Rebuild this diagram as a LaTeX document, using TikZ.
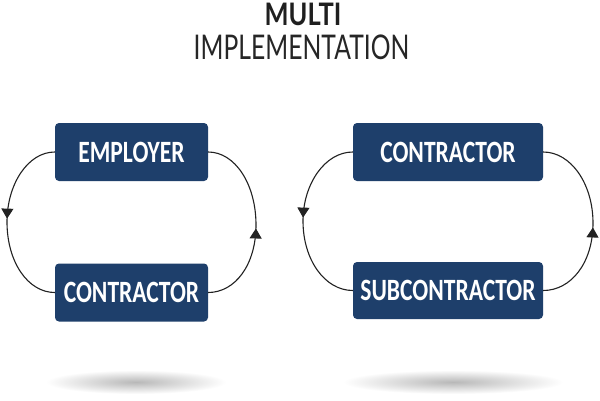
\documentclass[tikz,border=0pt]{standalone}
\usepackage{fontspec}
\usetikzlibrary{decorations.markings,arrows.meta}
\newfontfamily\boxfont[BoldFont={Carlito Bold}]{Carlito}
\newfontfamily\titlefont{Lato}
\definecolor{navy}{HTML}{1E3F6B}
\definecolor{lineclr}{HTML}{222222}
\tikzset{
  box/.style={fill=navy, rounded corners=4pt, text=white, inner sep=0pt,
    font=\boxfont\bfseries\fontsize{31}{32}\selectfont},
  loop/.style={draw=lineclr, line width=1.1pt,
    postaction={decorate},
    decoration={markings, mark=at position #1 with {\arrow{Triangle[length=10pt,width=12pt]}}}},
  shadowblob/.style={inner color=black!28, outer color=white}
}
\newcommand{\sq}[2][0.76]{\scalebox{#1}[1]{#2}}
\begin{document}
\begin{tikzpicture}[x=1pt,y=-1pt]
\useasboundingbox[fill=white] (0,0) rectangle (600,400);
% title
\node[anchor=base, font=\titlefont\bfseries\fontsize{31}{33}\selectfont, text=black!88] (t1) at (303,25) {\sq[0.82]{MULTI}};
\node[anchor=base, font=\titlefont\fontsize{34}{36}\selectfont, text=black!85] (t2) at (301.5,59) {\sq[0.726]{IMPLEMENTATION}};
% shadows
\shade[shadowblob] (136,382) ellipse (90 and 12);
\shade[shadowblob] (453,382) ellipse (110 and 12);
% left pair
\node[box, minimum width=153pt, minimum height=58pt] (emp) at (131.5,152) {\sq{EMPLOYER}};
\node[box, minimum width=153pt, minimum height=58pt] (con1) at (131.5,292.5) {\sq{CONTRACTOR}};
\draw[loop=0.48] (emp.west) .. controls (28,152) and (7,184) .. (7,222)
  .. controls (7,262) and (28,292.5) .. (con1.west);
\draw[loop=0.47] (con1.east) .. controls (235,292.5) and (256,265) .. (256,225)
  .. controls (256,184) and (235,152) .. (emp.east);
% right pair
\node[box, minimum width=190pt, minimum height=58pt] (con2) at (448,152) {\sq{CONTRACTOR}};
\node[box, minimum width=190pt, minimum height=57pt] (sub) at (448,290.5) {\sq{SUBCONTRACTOR}};
\draw[loop=0.48] (con2.west) .. controls (325,152) and (303,184) .. (303,221)
  .. controls (303,260) and (325,290.5) .. (sub.west);
\draw[loop=0.47] (sub.east) .. controls (571,290.5) and (593,263) .. (593,223)
  .. controls (593,184) and (571,152) .. (con2.east);
\end{tikzpicture}
\end{document}
